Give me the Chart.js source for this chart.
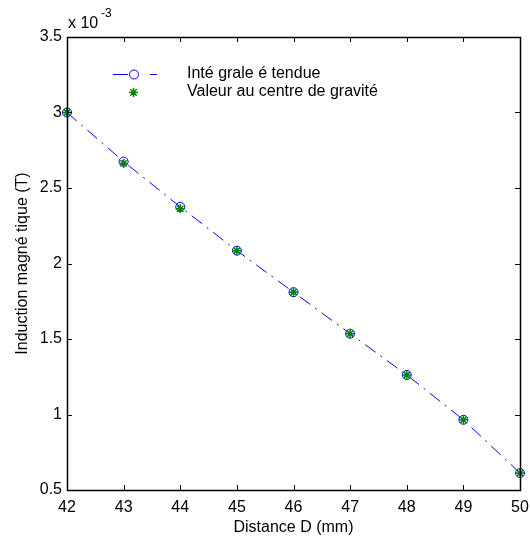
<!DOCTYPE html>
<html>
<head>
<meta charset="utf-8">
<script src="https://cdn.jsdelivr.net/npm/chart.js@4.4.0/dist/chart.umd.min.js"></script>
<style>
  html, body { margin: 0; padding: 0; background: #fff; }
  #wrap { width: 530px; height: 543px; }
</style>
</head>
<body>
<div id="wrap"><canvas id="c" width="530" height="543"></canvas></div>
<script>
// Distance (mm)
const distances = [42, 43, 44, 45, 46, 47, 48, 49, 50];
// Induction (x 10^-3 T)
const integraleEtendue = [3.00, 2.675, 2.375, 2.085, 1.81, 1.535, 1.262, 0.965, 0.612];
const centreGravite = [3.00, 2.663, 2.362, 2.085, 1.81, 1.535, 1.262, 0.965, 0.612];
const xTicks = [42, 43, 44, 45, 46, 47, 48, 49, 50];
const yTicks = [0.5, 1, 1.5, 2, 2.5, 3, 3.5];
const legendLabels = ['Inté grale é tendue', 'Valeur au centre de gravité'];

const FONT = 'Liberation Sans, Arial, Helvetica, sans-serif';
const dashDot = [13, 6, 2, 6];

// MATLAB-style box, inward ticks, exponent and legend
const matlabAxes = {
    id: 'matlabAxes',
    afterDraw(chart) {
        const ctx = chart.ctx;
        const a = chart.chartArea;
        const sx = chart.scales.x, sy = chart.scales.y;
        const tl = 5;
        ctx.save();
        ctx.setLineDash([]);
        ctx.globalAlpha = 1;
        ctx.strokeStyle = '#000000';
        ctx.lineWidth = 1;
        const L = Math.round(a.left), R = Math.round(a.right);
        const T = Math.round(a.top), B = Math.round(a.bottom);
        for (const v of xTicks) {
            const x = Math.round(sx.getPixelForValue(v)) + 0.5;
            ctx.beginPath();
            ctx.moveTo(x, B); ctx.lineTo(x, B - tl);
            ctx.moveTo(x, T); ctx.lineTo(x, T + tl);
            ctx.stroke();
        }
        for (const v of yTicks) {
            const y = Math.round(sy.getPixelForValue(v)) + 0.5;
            ctx.beginPath();
            ctx.moveTo(L, y); ctx.lineTo(L + tl, y);
            ctx.moveTo(R, y); ctx.lineTo(R - tl, y);
            ctx.stroke();
        }
        ctx.lineWidth = 1.5;
        ctx.beginPath();
        ctx.rect(L + 0.5, T + 0.5, R - L, B - T);
        ctx.stroke();

        // exponent label
        ctx.fillStyle = '#000';
        ctx.textBaseline = 'alphabetic';
        ctx.textAlign = 'left';
        ctx.font = '16px ' + FONT;
        ctx.fillText('x 10', L + 1, 28);
        ctx.font = '12px ' + FONT;
        ctx.fillText('-3', L + 34, 17);

        // legend
        const lx = L + 46, ly1 = 74, ly2 = 92;
        ctx.strokeStyle = '#0000ff';
        ctx.lineWidth = 1;
        ctx.beginPath();
        ctx.moveTo(lx, ly1 + 0.5); ctx.lineTo(lx + 15, ly1 + 0.5);
        ctx.moveTo(lx + 37, ly1 + 0.5); ctx.lineTo(lx + 44, ly1 + 0.5);
        ctx.stroke();
        ctx.beginPath();
        ctx.arc(lx + 21, ly1 + 0.5, 4.5, 0, Math.PI * 2);
        ctx.stroke();
        ctx.strokeStyle = '#008000';
        ctx.lineWidth = 1.5;
        const cx = lx + 20.5, cy = ly2 + 0.5, r = 4.5, d = r * Math.SQRT1_2;
        ctx.beginPath();
        ctx.moveTo(cx - r, cy); ctx.lineTo(cx + r, cy);
        ctx.moveTo(cx, cy - r); ctx.lineTo(cx, cy + r);
        ctx.moveTo(cx - d, cy - d); ctx.lineTo(cx + d, cy + d);
        ctx.moveTo(cx - d, cy + d); ctx.lineTo(cx + d, cy - d);
        ctx.stroke();
        ctx.fillStyle = '#000';
        ctx.font = '16px ' + FONT;
        ctx.textBaseline = 'middle';
        ctx.fillText(legendLabels[0], L + 120, ly1);
        ctx.fillText(legendLabels[1], L + 120, ly2);
        ctx.restore();
    }
};

new Chart(document.getElementById('c'), {
    type: 'line',
    data: {
        datasets: [
            {
                label: legendLabels[0],
                data: distances.map((d, i) => ({ x: d, y: integraleEtendue[i] })),
                borderColor: '#0000ff',
                borderWidth: 1,
                borderDash: dashDot,
                pointStyle: 'circle',
                pointRadius: 4.5,
                pointBorderColor: '#0000ff',
                pointBackgroundColor: 'rgba(0,0,0,0)',
                pointBorderWidth: 1,
                tension: 0,
                clip: false,
                order: 2
            },
            {
                label: legendLabels[1],
                data: distances.map((d, i) => ({ x: d, y: centreGravite[i] })),
                showLine: false,
                pointStyle: 'star',
                pointRadius: 4.5,
                pointBorderColor: '#008000',
                pointBackgroundColor: '#008000',
                pointBorderWidth: 1.5,
                clip: false,
                order: 1
            }
        ]
    },
    options: {
        responsive: false,
        animation: false,
        layout: { padding: { top: 37, right: 10, left: 0, bottom: 0 } },
        plugins: { legend: { display: false }, tooltip: { enabled: false } },
        scales: {
            x: {
                type: 'linear',
                min: 42, max: 50,
                afterFit: s => { s.height = 53; s.paddingLeft = 0; s.paddingRight = 0; },
                afterBuildTicks: s => { s.ticks = xTicks.map(v => ({ value: v })); },
                grid: { display: false, drawTicks: false },
                border: { display: false },
                ticks: { color: '#000', font: { family: FONT, size: 16 }, padding: 8, maxRotation: 0,
                    callback: v => String(v) },
                title: { display: true, text: 'Distance D (mm)', color: '#000',
                    font: { family: FONT, size: 16 }, padding: { top: 6, bottom: 6 } }
            },
            y: {
                type: 'linear',
                min: 0.5, max: 3.5,
                afterFit: s => { s.width = 67; s.paddingTop = 0; s.paddingBottom = 0; },
                afterBuildTicks: s => { s.ticks = yTicks.map(v => ({ value: v })); },
                grid: { display: false, drawTicks: false },
                border: { display: false },
                ticks: { color: '#000', font: { family: FONT, size: 16 }, padding: 5,
                    callback: v => String(v) },
                title: { display: true, text: 'Induction magné tique (T)', color: '#000',
                    font: { family: FONT, size: 16 }, padding: { top: 13, bottom: 0 } }
            }
        }
    },
    plugins: [matlabAxes]
});
</script>
</body>
</html>
